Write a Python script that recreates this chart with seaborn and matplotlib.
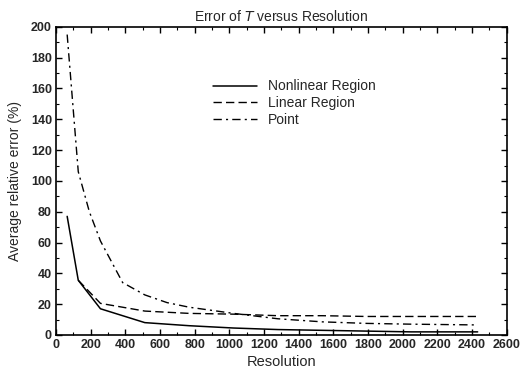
import numpy as np
import pandas as pd
import seaborn as sns
import matplotlib.pyplot as plt
from matplotlib.ticker import MultipleLocator

res_nonlinear = [64, 128, 256, 512, 768, 1024, 1280, 1536, 1792, 2048, 2432]
err_nonlinear = [77, 35.5, 17, 8, 6, 4.5, 3.5, 3, 2.5, 2, 2]

res_linear = [128, 256, 512, 768, 1024, 1280, 1536, 1792, 2048, 2432]
err_linear = [35.5, 20.5, 15.5, 14, 13.5, 12.5, 12.5, 12, 12, 12]

res_point = [64, 128, 192, 256, 384, 512, 640, 768, 1024, 1280, 1536, 1792, 2048, 2432]
err_point = [195, 106, 80, 61, 34, 26, 21, 18, 14, 10.5, 8.5, 7.5, 7, 6.5]

sns.set_theme(style="ticks")
plt.rcParams['font.family'] = ['Liberation Sans', 'DejaVu Sans']

fig = plt.figure(figsize=(5.29, 3.73), dpi=100)
ax = fig.add_axes([0.106, 0.102, 0.852, 0.826])

sns.lineplot(x=res_nonlinear, y=err_nonlinear, ax=ax, color='black', lw=1.1,
             label='Nonlinear Region')
sns.lineplot(x=res_linear, y=err_linear, ax=ax, color='black', lw=1.0,
             label='Linear Region', linestyle=(0, (6, 3)))
sns.lineplot(x=res_point, y=err_point, ax=ax, color='black', lw=1.0,
             label='Point', linestyle=(0, (6, 3, 1.5, 3)))

ax.set_xlim(0, 2600)
ax.set_ylim(0, 200)
ax.xaxis.set_major_locator(MultipleLocator(200))
ax.xaxis.set_minor_locator(MultipleLocator(100))
ax.yaxis.set_major_locator(MultipleLocator(20))
ax.yaxis.set_minor_locator(MultipleLocator(10))
ax.tick_params(which='both', direction='in', top=True, right=True, color='black')
ax.tick_params(which='major', length=4, width=1, labelsize=9, pad=3)
ax.tick_params(which='minor', length=2, width=0.8)
for lab in ax.get_xticklabels() + ax.get_yticklabels():
    lab.set_fontweight('bold')
for sp in ax.spines.values():
    sp.set_color('black')
    sp.set_linewidth(1.2)

ax.set_xlabel('Resolution', fontsize=10.5, labelpad=3)
ax.set_ylabel('Average relative error (%)', fontsize=10, labelpad=6)
ax.set_title(r'Error of $\it{T}$ versus Resolution', fontsize=10, pad=4)

leg = ax.legend(loc='upper left', bbox_to_anchor=(0.32, 0.87), frameon=False,
                fontsize=10, handlelength=3.2, labelspacing=0.2, handletextpad=0.8)

fig.savefig('out.png', dpi=100)
